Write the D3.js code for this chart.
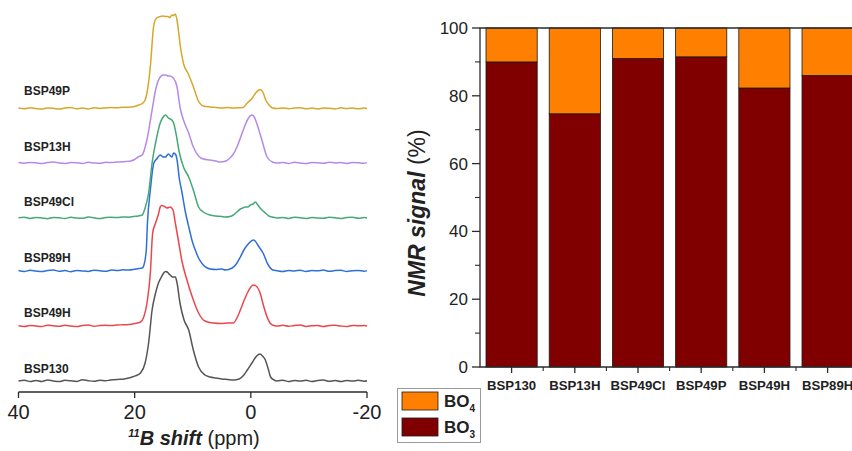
<!DOCTYPE html>
<html>
<head>
<meta charset="utf-8">
<script src="https://cdn.jsdelivr.net/npm/d3@7/dist/d3.min.js"></script>
<style>
  html, body { margin: 0; padding: 0; background: #fff; }
  svg { display: block; font-family: "Liberation Sans", Arial, sans-serif; }
</style>
</head>
<body>
<svg id="chart" width="852" height="451"></svg>
<script>
// ---------------- DATA ----------------
// Left panel: 11B NMR spectra, [ppm, intensity]
const spectraNames = ["BSP130", "BSP49H", "BSP89H", "BSP49Cl", "BSP13H", "BSP49P"];
const spectraColors = ["#555555", "#e8474c", "#2f6fd8", "#44a877", "#b58ae6", "#d6a72a"];
const spectraOffsets = [0, 55, 110, 163, 218, 272.5];
const shiftTicks = [40, 20, 0, -20];

const specBSP130 = [[40,0],[39,0.8],[38,-0.5],[37,0.6],[36,-0.4],[35,0.9],[34,0],[33,-0.6],[32,0.7],[31,0.2],[30,-0.5],[29,1.2],[28,0.3],[27,-0.3],[26,0.8],[25,0.2],[24.2,1],[23,1.6],[22,1.8],[21,3],[20.2,4.5],[19.5,6],[19,8],[18.2,18],[17.6,38],[17,71],[16.4,88],[15.9,98],[15.4,104],[15,108],[14.7,109.5],[14.4,109],[13.9,106],[13.4,104],[13,104],[12.7,98],[12.2,78],[11.5,61],[10.7,51],[9.9,31],[9,14],[7.9,6],[7,4],[6.1,3],[5,2],[4,1.5],[3,1],[2,2],[1.2,6],[0.6,11],[-0.3,19],[-1,25],[-1.6,27],[-2,25],[-2.5,21],[-3,12],[-3.4,4],[-4,1],[-4.5,0],[-5.5,0.8],[-6.5,-0.5],[-7.5,0.6],[-8.5,0],[-9.5,0.7],[-10.5,-0.4],[-11.5,0.5],[-12.5,0.9],[-13.5,-0.3],[-14.5,0.4],[-15.5,-0.6],[-16.5,0.6],[-17.5,0],[-18.5,0.7],[-19.5,-0.2],[-20,0.3]];

const specBSP49H = [[40,0.3],[39,-0.4],[38,0.6],[37,0.1],[36,-0.5],[35,0.7],[34,0.2],[33,-0.3],[32,0.8],[31,0],[30,-0.6],[29,0.5],[28,0.9],[27,-0.2],[26,0.4],[25,0.7],[24,0.5],[23,1],[22,1.2],[21,1.5],[20,2.5],[19,4],[18.5,8],[17.8,26],[17.3,53],[16.9,93],[16.4,103],[15.9,112],[15.6,119],[15.3,120.5],[15,120],[14.4,118],[13.9,119],[13.4,116],[13,103],[12.4,83],[11.9,66],[11,46],[9.9,26],[9,13],[7.9,5],[6.5,3],[5,2.5],[4,3],[3,3],[2.4,8],[1.8,16],[1.2,25],[0.6,33],[0,39],[-0.4,41],[-0.9,40],[-1.6,33],[-2.2,20],[-2.8,9],[-3.3,3],[-3.7,1],[-4.5,0],[-5.5,0.7],[-6.5,-0.3],[-7.5,0.5],[-8.5,0.9],[-9.5,-0.4],[-10.5,0.3],[-11.5,0.6],[-12.5,-0.5],[-13.5,0.4],[-14.5,0.8],[-15.5,0],[-16.5,-0.5],[-17.5,0.6],[-18.5,0.2],[-19.5,0.5],[-20,0]];

const specBSP89H = [[40,0.4],[39,-0.5],[38,0.7],[37,0],[36,-0.6],[35,0.5],[34,0.9],[33,-0.2],[32,0.4],[31,-0.7],[30,0.6],[29,0.1],[28,-0.4],[27,0.8],[26,0.3],[25,-0.3],[24,0.9],[23,0.5],[22,1.2],[21,1],[20,1.8],[19.2,2.5],[18.7,3],[18.4,6],[18,21],[17.8,48],[17.3,81],[16.7,108],[16.2,112],[15.6,116],[15.1,114],[14.7,114],[14.2,117],[13.6,114],[13.3,118],[12.9,116],[12.7,111],[12.3,92],[11.9,80],[11.3,60],[10.6,42],[10.1,30],[9.5,20],[9,13],[8.2,6],[7.5,3],[7,2],[6,1.5],[5,2],[4.4,1],[3.2,3],[2.5,7],[1.8,14],[1.2,21],[0.6,26],[-0.5,31],[-1.3,25],[-2.1,18],[-3,6],[-3.8,1],[-4.5,0.3],[-5.5,-0.4],[-6.5,0.6],[-7.5,0],[-8.5,0.8],[-9.5,-0.5],[-10.5,0.4],[-11.5,0.2],[-12.5,0.9],[-13.5,-0.3],[-14.5,0.5],[-15.5,0.7],[-16.5,-0.4],[-17.5,0.3],[-18.5,0.6],[-19.5,-0.2],[-20,0.4]];

const specBSP49Cl = [[40,0.3],[39,0.8],[38,-0.4],[37,0.5],[36,0],[35,-0.7],[34,0.6],[33,0.2],[32,-0.5],[31,0.7],[30,0],[29,-0.3],[28,0.9],[27,0.2],[26,-0.6],[25,0.5],[24,0.8],[23,0.4],[22,1],[21,0.8],[20.2,1.5],[19.4,2],[18.7,3],[18.2,10],[17.6,25],[17,55],[16.4,75],[15.6,95],[15.2,100],[14.7,103],[14.2,100],[13.6,98],[13.3,95],[12.8,82],[12.4,68],[11.6,51],[10.7,41],[9.9,28],[9,11],[8.2,6],[7,3],[6,2],[5,1.5],[4.4,1],[3.6,1.5],[3,3],[2.4,6],[1.8,9],[1.4,10],[1,11],[0.5,11],[0.1,13],[-0.4,14],[-0.8,16],[-1.2,13],[-1.6,10],[-2.1,7],[-2.5,5],[-3.1,2],[-3.7,1],[-4.5,0],[-5.5,0.6],[-6.5,-0.4],[-7.5,0.8],[-8.5,0.2],[-9.5,-0.5],[-10.5,0.6],[-11.5,0],[-12.5,-0.3],[-13.5,0.7],[-14.5,0.3],[-15.5,-0.5],[-16.5,0.5],[-17.5,0.8],[-18.5,-0.2],[-19.5,0.4],[-20,0]];

const specBSP13H = [[40,0.5],[39,-0.3],[38,0.6],[37,0.2],[36,-0.6],[35,0.4],[34,0.9],[33,0],[32,-0.5],[31,0.6],[30,0.3],[29,-0.4],[28,0.7],[27,0.1],[26,-0.3],[25,0.8],[24,0.4],[23,0.9],[22,1.2],[21.5,1.5],[20.7,2],[20,3.5],[19.4,6],[18.7,8],[17.9,23],[17,53],[16.4,73],[15.6,86],[15.1,88],[14.7,88],[14.2,87],[13.9,87],[13.3,84.7],[12.7,76],[12.2,56],[11.6,43],[10.7,30],[9.9,16],[9,7],[8.2,4],[7,3],[6,2],[5.3,1],[4.3,2],[3.6,5],[3,9],[2.4,16],[1.3,33],[0.5,44],[-0.2,48],[-0.6,46],[-1,40],[-1.9,23],[-2.8,6],[-3.7,1],[-4.5,0],[-5.5,0.5],[-6.5,-0.4],[-7.5,0.7],[-8.5,0.1],[-9.5,-0.5],[-10.5,0.6],[-11.5,0.3],[-12.5,-0.2],[-13.5,0.8],[-14.5,0],[-15.5,0.5],[-16.5,-0.4],[-17.5,0.6],[-18.5,0.2],[-19.5,-0.3],[-20,0.4]];

const specBSP49P = [[40,0.4],[39,-0.3],[38,0.7],[37,0],[36,-0.5],[35,0.6],[34,0.2],[33,-0.6],[32,0.5],[31,0.9],[30,-0.2],[29,0.4],[28,-0.5],[27,0.7],[26,0.1],[25,0.6],[24,1],[23,0.7],[22,1.3],[21,1.2],[20,2],[19.3,3.5],[18.7,5],[18.2,8.5],[17.9,15],[17.3,42],[16.74,82],[16.45,88.5],[16.1,91],[15.6,92],[15.1,92.5],[14.7,92],[14.3,92],[13.9,91],[13.6,93.5],[13.3,93],[13,94.5],[12.7,88],[12.4,75],[12.2,65],[11.6,45],[10.8,35],[9.9,22],[9.1,8.5],[8.2,2.5],[7,1.5],[6,1],[5,0.5],[4,1],[3,0.5],[2,0.8],[1.3,1],[0.7,5],[-0.2,10],[-0.9,16],[-1.6,19],[-2.1,16],[-2.6,8],[-3.2,3],[-3.7,0.5],[-4.5,0],[-5.5,0.6],[-6.5,-0.3],[-7.5,0.5],[-8.5,0.8],[-9.5,-0.2],[-10.5,0.4],[-11.5,-0.5],[-12.5,0.6],[-13.5,0.2],[-14.5,-0.4],[-15.5,0.7],[-16.5,0],[-17.5,0.5],[-18.5,-0.3],[-19.5,0.4],[-20,0]];

const spectraData = [specBSP130, specBSP49H, specBSP89H, specBSP49Cl, specBSP13H, specBSP49P];

// Right panel: stacked bars, NMR signal (%)
const barCategories = ["BSP130", "BSP13H", "BSP49Cl", "BSP49P", "BSP49H", "BSP89H"];
const bo3Values = [90, 74.7, 91, 91.5, 82.3, 86];
const bo4Values = [10, 25.3, 9, 8.5, 17.7, 14];
const signalTicks = [0, 20, 40, 60, 80, 100];
const signalMinorTicks = [10, 30, 50, 70, 90];
const legendItems = [["BO", "4", "#ff8000"], ["BO", "3", "#800000"]];

// ---------------- DRAW ----------------
const svg = d3.select("#chart");
const axisColor = "#2b2b2b";

// ---- Left panel ----
const xL = d3.scaleLinear().domain([40, -20]).range([18.5, 367]);
const yL = d3.scaleLinear().domain([0, 100]).range([381, 281]);
const labelY = d3.scaleLinear().domain([0, 5]).range([373, 95]);

const line = d3.line()
  .x(d => xL(d[0]))
  .curve(d3.curveMonotoneX);

spectraData.forEach((spec, i) => {
  svg.append("path")
    .attr("d", line.y(d => yL(d[1] + spectraOffsets[i]))(spec))
    .attr("fill", "none")
    .attr("stroke", spectraColors[i])
    .attr("stroke-width", 1.5)
    .attr("stroke-linejoin", "round");
  svg.append("text")
    .attr("x", 24)
    .attr("y", labelY(i))
    .attr("font-size", 12)
    .attr("font-weight", "bold")
    .attr("fill", "#222")
    .text(spectraNames[i]);
});

const axisY = 392;
svg.append("line")
  .attr("x1", xL(40)).attr("x2", xL(-20))
  .attr("y1", axisY).attr("y2", axisY)
  .attr("stroke", axisColor).attr("stroke-width", 1.3);
svg.selectAll(".ltick").data(shiftTicks).join("line")
  .attr("x1", d => xL(d)).attr("x2", d => xL(d))
  .attr("y1", axisY).attr("y2", axisY + 6)
  .attr("stroke", axisColor).attr("stroke-width", 1.3);
svg.selectAll(".ltl").data(shiftTicks).join("text")
  .attr("x", d => xL(d)).attr("y", 419)
  .attr("text-anchor", "middle")
  .attr("font-size", 20)
  .attr("fill", "#222")
  .text(d => d);

const xTitle = svg.append("text")
  .attr("x", 194).attr("y", 445)
  .attr("text-anchor", "middle")
  .attr("font-size", 20)
  .attr("fill", "#222");
xTitle.append("tspan").attr("font-size", 11).attr("font-weight", "bold").attr("font-style", "italic").attr("dy", -8).text("11");
xTitle.append("tspan").attr("font-weight", "bold").attr("font-style", "italic").attr("dy", 8).text("B shift");
xTitle.append("tspan").text(" (ppm)");

// ---- Right panel ----
const xR = d3.scaleBand().domain(barCategories).range([480, 859.2])
  .paddingInner(0.19).paddingOuter(0.095);
const yR = d3.scaleLinear().domain([0, 100]).range([367, 28]);

const barW = xR.bandwidth();
svg.selectAll(".bo3").data(barCategories).join("rect")
  .attr("x", d => xR(d))
  .attr("y", (d, i) => yR(bo3Values[i]))
  .attr("width", barW)
  .attr("height", (d, i) => yR(0) - yR(bo3Values[i]))
  .attr("fill", "#800000").attr("stroke", "#1a1a1a").attr("stroke-width", 0.8);
svg.selectAll(".bo4").data(barCategories).join("rect")
  .attr("x", d => xR(d))
  .attr("y", (d, i) => yR(bo3Values[i] + bo4Values[i]))
  .attr("width", barW)
  .attr("height", (d, i) => yR(bo3Values[i]) - yR(bo3Values[i] + bo4Values[i]))
  .attr("fill", "#ff8000").attr("stroke", "#1a1a1a").attr("stroke-width", 0.8);

// frame
svg.append("path")
  .attr("d", `M${xR.range()[1]},${yR(100)}H480V${yR(0)}H${xR.range()[1]}`)
  .attr("fill", "none").attr("stroke", axisColor).attr("stroke-width", 1.3);

// y ticks
svg.selectAll(".ytk").data(signalTicks).join("line")
  .attr("x1", 472).attr("x2", 480)
  .attr("y1", d => yR(d)).attr("y2", d => yR(d))
  .attr("stroke", axisColor).attr("stroke-width", 1.3);
svg.selectAll(".ytm").data(signalMinorTicks).join("line")
  .attr("x1", 475).attr("x2", 480)
  .attr("y1", d => yR(d)).attr("y2", d => yR(d))
  .attr("stroke", axisColor).attr("stroke-width", 1.1);
svg.selectAll(".ytl").data(signalTicks).join("text")
  .attr("x", 468).attr("y", d => yR(d) + 6)
  .attr("text-anchor", "end")
  .attr("font-size", 17)
  .attr("fill", "#222")
  .text(d => d);

// x ticks
svg.selectAll(".xtk").data(barCategories).join("line")
  .attr("x1", d => xR(d) + barW / 2).attr("x2", d => xR(d) + barW / 2)
  .attr("y1", yR(0)).attr("y2", yR(0) + 6)
  .attr("stroke", axisColor).attr("stroke-width", 1.3);
svg.selectAll(".xtm").data(barCategories.slice(1)).join("line")
  .attr("x1", d => xR(d) - xR.step() * xR.paddingInner() / 2)
  .attr("x2", d => xR(d) - xR.step() * xR.paddingInner() / 2)
  .attr("y1", yR(0)).attr("y2", yR(0) + 4)
  .attr("stroke", axisColor).attr("stroke-width", 1.1);
svg.selectAll(".xtl").data(barCategories).join("text")
  .attr("x", d => xR(d) + barW / 2).attr("y", 390)
  .attr("text-anchor", "middle")
  .attr("font-size", 13.2)
  .attr("font-weight", "bold")
  .attr("fill", "#222")
  .text(d => d);

// y title
const yTitle = svg.append("text")
  .attr("transform", "translate(425,213) rotate(-90)")
  .attr("text-anchor", "middle")
  .attr("font-size", 23)
  .attr("fill", "#222");
yTitle.append("tspan").attr("font-weight", "bold").attr("font-style", "italic").text("NMR signal");
yTitle.append("tspan").text(" (%)");

// legend
svg.append("rect")
  .attr("x", 397.5).attr("y", 388.5).attr("width", 83).attr("height", 54)
  .attr("fill", "#fff").attr("stroke", "#9a9a9a").attr("stroke-width", 1);
legendItems.forEach((it, i) => {
  const y0 = 392 + i * 26;
  svg.append("rect")
    .attr("x", 402).attr("y", y0).attr("width", 36).attr("height", 18)
    .attr("fill", it[2]).attr("stroke", "#1a1a1a").attr("stroke-width", 0.8);
  const t = svg.append("text")
    .attr("x", 444).attr("y", y0 + 15)
    .attr("font-size", 17).attr("font-weight", "bold").attr("fill", "#222");
  t.append("tspan").text(it[0]);
  t.append("tspan").attr("font-size", 10).attr("dy", 5).text(it[1]);
});
</script>
</body>
</html>
